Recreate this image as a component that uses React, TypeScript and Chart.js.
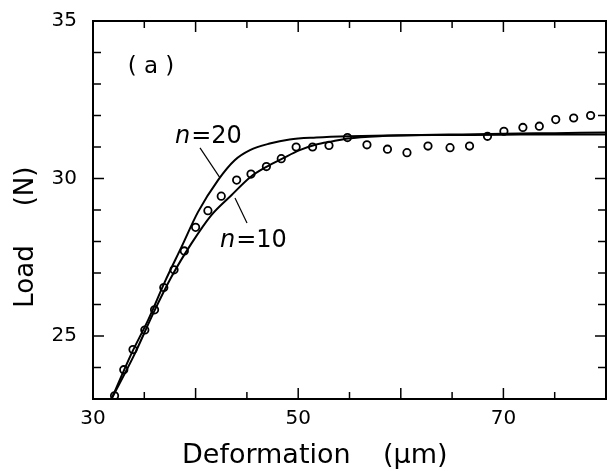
import React, { useEffect, useRef } from 'react';
import { Chart, registerables } from 'chart.js';

Chart.register(...registerables);

// Measured load–deformation points (open circles)
const measuredX = [32.1, 33.0, 33.9, 35.05, 36.0, 36.9, 37.9, 38.9, 40.0, 41.2, 42.5, 44.0, 45.4, 46.9, 48.35, 49.8, 51.4, 53.0, 54.8, 56.7, 58.7, 60.6, 62.65, 64.8, 66.7, 68.45, 70.05, 71.9, 73.5, 75.1, 76.85, 78.5];
const measuredY = [23.1, 23.93, 24.57, 25.19, 25.83, 26.54, 27.1, 27.7, 28.45, 28.98, 29.44, 29.95, 30.14, 30.38, 30.63, 31.0, 31.0, 31.05, 31.3, 31.07, 30.93, 30.82, 31.03, 30.98, 31.03, 31.34, 31.5, 31.62, 31.66, 31.87, 31.92, 32.0];

// Model curve n = 20
const n20X = [31.8, 33.76, 35.38, 37.0, 38.63, 40.24, 42.19, 43.81, 45.3, 47.22, 49.16, 51.76, 55.0, 59.86, 65.0, 70.0, 75.0, 80.0];
const n20Y = [23.0, 24.45, 25.51, 26.72, 27.83, 28.94, 29.95, 30.58, 30.9, 31.11, 31.24, 31.3, 31.34, 31.37, 31.38, 31.39, 31.4, 31.4];

// Model curve n = 10
const n10X = [31.8, 34.09, 35.87, 37.65, 39.6, 41.54, 43.49, 45.35, 46.9, 48.5, 50.14, 51.76, 53.38, 54.84, 58.24, 62.0, 66.0, 70.0, 75.0, 80.0];
const n10Y = [23.0, 24.45, 25.72, 26.88, 27.94, 28.84, 29.47, 30.05, 30.37, 30.64, 30.9, 31.08, 31.18, 31.27, 31.35, 31.38, 31.4, 31.42, 31.44, 31.46];

// Axes
const xRange = [30, 80];
const yRange = [23, 35];
const xTickLabels = [30, 50, 70];
const yTickLabels = [25, 30, 35];
const xMajorTicks = [30, 40, 50, 60, 70, 80];
const xMinorTicks = [35, 45, 55, 65, 75];
const yMajorTicks = [25, 30, 35];
const yMinorTicks = [23, 24, 26, 27, 28, 29, 31, 32, 33, 34];

const xTitleParts = ['Deformation', '(μm)'];
const yTitleParts = ['Load', '(N)'];
const panelLabel = '( a )';

// Curve annotations (data coordinates)
const n20Label = { x: 37.99, y: 31.13, rest: '=20' };
const n10Label = { x: 42.38, y: 27.83, rest: '=10' };
const n20Leader = [[40.43, 30.97], [42.38, 30.02]];
const n10Leader = [[43.84, 29.38], [45.01, 28.59]];
const panelPos = { x: 35.65, y: 33.55 };

const FONT = "'DejaVu Sans', sans-serif";

const toPts = (xs: number[], ys: number[]) => xs.map((x, i) => ({ x, y: ys[i] }));

const zeroPad = (s: any) => {
  s.paddingLeft = 0;
  s.paddingRight = 0;
  s.paddingTop = 0;
  s.paddingBottom = 0;
};

const decorPlugin = {
  id: 'decor',
  afterDraw(chart: any) {
    const { ctx, chartArea: a, scales } = chart;
    const xs = scales.x;
    const ys = scales.y;
    ctx.save();
    ctx.strokeStyle = '#000';
    ctx.fillStyle = '#000';
    // frame
    ctx.lineWidth = 2;
    ctx.strokeRect(a.left, a.top, a.right - a.left, a.bottom - a.top);
    // ticks (inward, all four sides)
    ctx.lineWidth = 1.5;
    const line = (x1: number, y1: number, x2: number, y2: number) => {
      ctx.beginPath();
      ctx.moveTo(x1, y1);
      ctx.lineTo(x2, y2);
      ctx.stroke();
    };
    const xt = (v: number, len: number) => {
      const p = xs.getPixelForValue(v);
      line(p, a.bottom, p, a.bottom - len);
      line(p, a.top, p, a.top + len);
    };
    const yt = (v: number, len: number) => {
      const p = ys.getPixelForValue(v);
      line(a.left, p, a.left + len, p);
      line(a.right, p, a.right - len, p);
    };
    xMajorTicks.forEach((v) => xt(v, 11));
    xMinorTicks.forEach((v) => xt(v, 7));
    yMajorTicks.forEach((v) => yt(v, 11));
    yMinorTicks.forEach((v) => yt(v, 8));

    // leaders
    ctx.lineWidth = 1.2;
    [n20Leader, n10Leader].forEach((seg) => {
      line(
        xs.getPixelForValue(seg[0][0]), ys.getPixelForValue(seg[0][1]),
        xs.getPixelForValue(seg[1][0]), ys.getPixelForValue(seg[1][1])
      );
    });

    // curve labels
    ctx.textBaseline = 'alphabetic';
    ctx.textAlign = 'left';
    [n20Label, n10Label].forEach((lb) => {
      const px = xs.getPixelForValue(lb.x);
      const py = ys.getPixelForValue(lb.y);
      ctx.font = `italic 24px ${FONT}`;
      ctx.fillText('n', px, py);
      const w = ctx.measureText('n').width;
      ctx.font = `24px ${FONT}`;
      ctx.fillText(lb.rest, px + w + 1, py);
    });

    // panel label
    ctx.font = `23px ${FONT}`;
    ctx.textAlign = 'center';
    ctx.textBaseline = 'middle';
    ctx.fillText(panelLabel, xs.getPixelForValue(panelPos.x), ys.getPixelForValue(panelPos.y));

    // x title
    ctx.font = `27px ${FONT}`;
    ctx.textAlign = 'left';
    ctx.textBaseline = 'alphabetic';
    ctx.fillText(xTitleParts[0], 182, 463);
    ctx.fillText(xTitleParts[1], 383, 463);

    // y title (rotated)
    ctx.font = `26px ${FONT}`;
    ctx.textAlign = 'center';
    const drawRot = (t: string, cy: number) => {
      ctx.save();
      ctx.translate(33, cy);
      ctx.rotate(-Math.PI / 2);
      ctx.fillText(t, 0, 0);
      ctx.restore();
    };
    drawRot(yTitleParts[0], 276.5);
    drawRot(yTitleParts[1], 186.5);
    ctx.restore();
  },
};

export default function App() {
  const ref = useRef<HTMLCanvasElement | null>(null);
  useEffect(() => {
    document.body.style.margin = '0';
    if (!ref.current) return;
    const tickFont = { family: FONT, size: 20 };
    const chart = new Chart(ref.current, {
      type: 'scatter',
      data: {
        datasets: [
          {
            label: 'n=20',
            data: toPts(n20X, n20Y),
            showLine: true,
            borderColor: '#000',
            borderWidth: 2,
            pointRadius: 0,
            cubicInterpolationMode: 'monotone',
            fill: false,
          },
          {
            label: 'n=10',
            data: toPts(n10X, n10Y),
            showLine: true,
            borderColor: '#000',
            borderWidth: 2,
            pointRadius: 0,
            cubicInterpolationMode: 'monotone',
            fill: false,
          },
          {
            label: 'measured',
            data: toPts(measuredX, measuredY),
            showLine: false,
            borderColor: '#000',
            backgroundColor: 'rgba(0,0,0,0)',
            pointRadius: 3.7,
            pointBorderWidth: 1.8,
            pointStyle: 'circle',
          },
        ],
      } as any,
      options: {
        animation: false,
        responsive: false,
        devicePixelRatio: 1,
        layout: { autoPadding: false, padding: { top: 21, right: 1, left: 0, bottom: 0 } },
        plugins: { legend: { display: false }, tooltip: { enabled: false } },
        events: [],
        scales: {
          x: {
            type: 'linear',
            min: xRange[0],
            max: xRange[1],
            afterBuildTicks: (ax: any) => {
              ax.ticks = xTickLabels.map((v) => ({ value: v }));
            },
            afterFit: (s: any) => {
              s.height = 72;
              zeroPad(s);
            },
            ticks: { font: tickFont, color: '#000', padding: 8, maxRotation: 0, autoSkip: false },
            grid: { display: false, drawTicks: false },
            border: { display: false },
          },
          y: {
            type: 'linear',
            min: yRange[0],
            max: yRange[1],
            afterBuildTicks: (ax: any) => {
              ax.ticks = yTickLabels.map((v) => ({ value: v }));
            },
            afterFit: (s: any) => {
              s.width = 93;
              zeroPad(s);
            },
            ticks: { font: tickFont, color: '#000', padding: 16, autoSkip: false },
            grid: { display: false, drawTicks: false },
            border: { display: false },
          },
        },
      } as any,
      plugins: [decorPlugin],
    });
    return () => chart.destroy();
  }, []);
  return (
    <div style={{ width: 607, height: 471, background: '#fff' }}>
      <canvas ref={ref} width={607} height={471} style={{ display: 'block' }} />
    </div>
  );
}
